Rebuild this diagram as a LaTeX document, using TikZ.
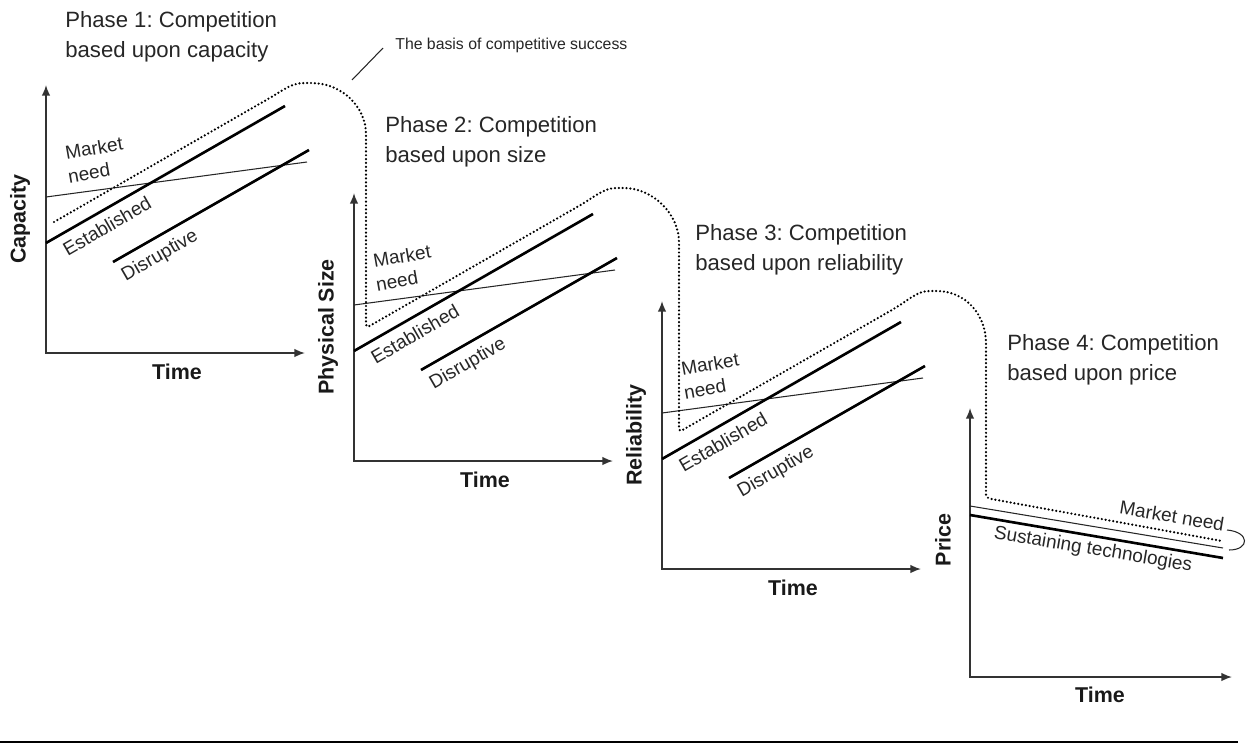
\documentclass[tikz,border=0pt]{standalone}
\usepackage{fontspec}
\setmainfont{Liberation Sans}
\usetikzlibrary{arrows.meta}
\frenchspacing
\begin{document}
\begin{tikzpicture}[x=0.02cm,y=-0.02cm,
  axis/.style={draw=black!80, line width=0.9pt, {Latex[length=6pt,width=4.8pt]}-{Latex[length=6pt,width=4.8pt]}},
  thickline/.style={draw=black, line width=1.5pt},
  thinline/.style={draw=black!85, line width=0.6pt},
  dotline/.style={draw=black, line width=1.4pt, dash pattern=on 0pt off 2.2pt, line cap=round},
  phase/.style={font=\fontsize{12.6}{14}\selectfont, text=black!85, inner sep=0, anchor=base west},
  lbl/.style={font=\fontsize{10.8}{13}\selectfont, text=black!85, inner sep=0},
  axlbl/.style={font=\bfseries\fontsize{12.2}{14}\selectfont, text=black!90, inner sep=0}]
\useasboundingbox (0,0) rectangle (1251,744);

% three rising panels
\foreach \i/\ox/\oy/\ylab in {1/46/353/Capacity, 2/354/461/{Physical Size}, 3/662/569/Reliability}{
  \begin{scope}[shift={(\ox,\oy)}]
    \coordinate (o\i) at (0,0);
    \coordinate (yt\i) at (0,-268);
    \coordinate (xt\i) at (259,0);
    \draw[axis] (yt\i) -- (o\i) -- (xt\i);
    \coordinate (ma\i) at (0,-156);
    \coordinate (mb\i) at (261,-191);
    \draw[thinline] (ma\i) -- (mb\i);
    \coordinate (ea\i) at (0,-110);
    \coordinate (eb\i) at (239,-247);
    \draw[thickline] (ea\i) -- (eb\i);
    \coordinate (da\i) at (67,-91);
    \coordinate (db\i) at (263,-203);
    \draw[thickline] (da\i) -- (db\i);
    \node[lbl, rotate=10] (mkt\i) at (48,-205) {Market};
    \node[lbl, rotate=10] (need\i) at (43,-180) {need};
    \node[lbl, rotate=30] (est\i) at (61,-127) {Established};
    \node[lbl, rotate=30] (dis\i) at (114,-97) {Disruptive};
    \node[axlbl, rotate=90] (yl\i) at (-26,-134) {\ylab};
    \node[axlbl] (tl\i) at (131,19) {Time};
  \end{scope}
}

% price panel
\begin{scope}[shift={(970,677)}]
  \coordinate (o4) at (0,0);
  \coordinate (yt4) at (0,-269);
  \coordinate (xt4) at (262,0);
  \draw[axis] (yt4) -- (o4) -- (xt4);
  \coordinate (ma4) at (0,-171);
  \coordinate (mb4) at (253,-129);
  \draw[thinline] (ma4) -- (mb4);
  \coordinate (sa4) at (0,-162);
  \coordinate (sb4) at (253,-119);
  \draw[thickline] (sa4) -- (sb4);
  \node[axlbl, rotate=90] (yl4) at (-27,-137) {Price};
  \node[axlbl] (tl4) at (130,18) {Time};
\end{scope}
\node[lbl, rotate=-9.5] (mn4) at (1172,516) {Market need};
\node[lbl, rotate=-9.5] (sus4) at (1093,550) {Sustaining technologies};
\coordinate (br1) at (1227,530);
\coordinate (br2) at (1229,550);
\draw[thinline] (br1) .. controls (1250,532) and (1250,550) .. (br2);

% the basis of competitive success (dotted)
\coordinate (d0) at (54,222);
\coordinate (d9) at (1222,541);
\draw[dotline, rounded corners=2pt] (d0) -- (268,99)
  .. controls (285,89) and (292,83) .. (308,83)
  .. controls (341,83) and (366,106) .. (366,138)
  -- (366,328) -- (578,206.5)
  .. controls (595,196.5) and (604,188) .. (620,188)
  .. controls (653,188) and (679,214) .. (679,246)
  -- (679,432) -- (891,310.5)
  .. controls (908,300.5) and (917,291) .. (933,291)
  .. controls (966,291) and (986,315) .. (986,347)
  -- (986,498) -- (d9);

\coordinate (lead1) at (352,80);
\coordinate (lead2) at (383,48);
\draw[thinline] (lead1) -- (lead2);
\node[font=\fontsize{9}{11}\selectfont, text=black!85, inner sep=0, anchor=base west] (basis) at (395,49) {The basis of competitive success};

% phase titles
\node[phase] (p1a) at (65,27) {Phase 1: Competition};
\node[phase] (p1b) at (65,57) {based upon capacity};
\node[phase] (p2a) at (385,132) {Phase 2: Competition};
\node[phase] (p2b) at (385,162) {based upon size};
\node[phase] (p3a) at (695,240) {Phase 3: Competition};
\node[phase] (p3b) at (695,270) {based upon reliability};
\node[phase] (p4a) at (1007,350) {Phase 4: Competition};
\node[phase] (p4b) at (1007,380) {based upon price};

% bottom rule
\coordinate (r1) at (0,742);
\coordinate (r2) at (1238,742);
\draw[line width=1.1pt] (r1) -- (r2);
\end{tikzpicture}
\end{document}
